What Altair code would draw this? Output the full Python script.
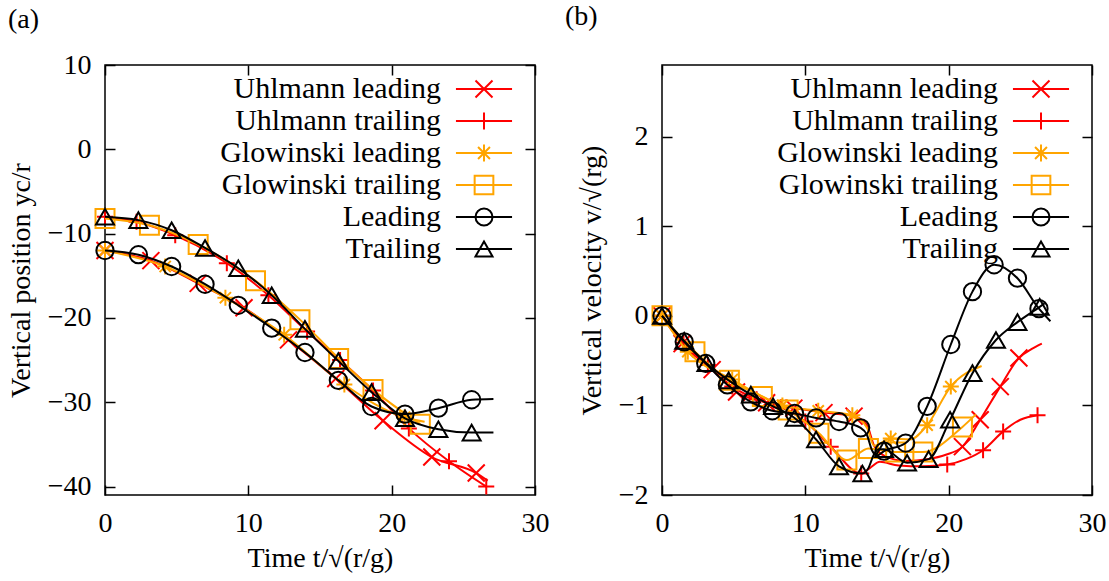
import altair as alt
import pandas as pd

FONT = "Liberation Serif"
FS = 28
LEG_FS = 30

SERIES = ["Uhlmann leading", "Uhlmann trailing", "Glowinski leading",
          "Glowinski trailing", "Leading", "Trailing"]
COLORS = ["#ff0000", "#ff0000", "#ffa500", "#ffa500", "#000000", "#000000"]

X_PATH = "M-1,-1L1,1M-1,1L1,-1"
PLUS_PATH = "M-1,0L1,0M0,-1L0,1"
STAR_PATH = "M-1,0L1,0M0,-1L0,1M-0.7,-0.7L0.7,0.7M-0.7,0.7L0.7,-0.7"
PLOT_SHAPES = [X_PATH, PLUS_PATH, STAR_PATH, "square", "circle", "triangle-up"]
PLOT_SIZES = [289, 256, 256, 361, 300, 324]

LINE = "M-3.3,0L3.3,0"
PAD = "M4.4,0"
LEGEND_SHAPES = [
    LINE + X_PATH + PAD,
    LINE + PLUS_PATH + PAD,
    LINE + STAR_PATH + PAD,
    LINE + "M-1.1,-1.1L1.1,-1.1L1.1,1.1L-1.1,1.1Z" + PAD,
    LINE + "M-1,0A1,1 0 1,0 1,0A1,1 0 1,0 -1,0Z" + PAD,
    LINE + "M0,-0.87L-1,0.87L1,0.87Z" + PAD,
]

# ---------------- panel (a): vertical position ----------------
A_UL_T = [0, 3.2, 6.5, 9.7, 12.8, 16.1, 19.4, 22.8, 25.9, 26.7]
A_UL_Y = [-12.0, -13.2, -15.9, -18.8, -22.6, -27.2, -32.2, -36.5, -38.4, -39.3]
A_UL_M = [1, 1, 1, 1, 1, 1, 1, 1, 1, 0]

A_UT_T = [0, 2.2, 4.9, 8.5, 11.4, 14.1, 16.4, 18.7, 21.2, 24.0, 26.6]
A_UT_Y = [-8.0, -8.6, -10.2, -13.5, -17.3, -21.6, -25.0, -28.6, -33.1, -37.0, -40.0]
A_UT_M = [1, 1, 1, 1, 1, 1, 1, 1, 1, 1, 1]

A_GL_T = [0, 4.2, 8.4, 12.5, 16.7, 20.9, 22.3]
A_GL_Y = [-12.0, -13.9, -17.6, -22.0, -27.9, -31.8, -32.3]
A_GL_M = [1, 1, 1, 1, 1, 1, 0]

A_GT_T = [0, 3.1, 6.5, 10.5, 13.6, 16.3, 18.7, 22.0]
A_GT_Y = [-8.2, -9.0, -11.3, -15.6, -20.2, -24.8, -28.5, -32.6]
A_GT_M = [1, 1, 1, 1, 1, 1, 1, 1]

A_L_T = [0, 2.33, 4.65, 6.98, 9.3, 11.63, 13.95, 16.28, 18.6, 20.93, 23.26, 25.58, 27.1]
A_L_Y = [-12.0, -12.5, -13.9, -16.0, -18.5, -21.2, -24.1, -27.4, -30.5, -31.4, -30.7, -29.7, -29.6]
A_L_M = [1, 1, 1, 1, 1, 1, 1, 1, 1, 1, 1, 1, 0]

A_T_T = [0, 2.33, 4.65, 6.98, 9.3, 11.63, 13.95, 16.28, 18.6, 20.93, 23.26, 25.58, 27.1]
A_T_Y = [-8.0, -8.4, -9.6, -11.7, -14.1, -17.3, -21.3, -25.1, -28.8, -31.9, -33.2, -33.6, -33.6]
A_T_M = [1, 1, 1, 1, 1, 1, 1, 1, 1, 1, 1, 1, 0]

# ---------------- panel (b): vertical velocity ----------------
B_UL_T = [0, 1.4, 3.5, 5.2, 7.3, 9.2, 11.3, 13.4, 14.3, 14.8, 15.5, 17.0, 18.5, 19.8, 20.96, 22.2, 23.6, 24.9, 25.8, 26.5]
B_UL_Y = [0, -0.31, -0.60, -0.85, -0.97, -1.03, -1.08, -1.12, -1.22, -1.45, -1.56, -1.62, -1.60, -1.55, -1.46, -1.16, -0.79, -0.47, -0.37, -0.31]
B_UL_M = [1, 1, 1, 1, 1, 1, 1, 1, 0, 0, 0, 0, 0, 0, 1, 1, 1, 1, 0, 0]

B_UT_T = [0, 1.5, 3.2, 4.9, 6.6, 8.3, 10.0, 11.77, 13.9, 14.5, 15.2, 16.5, 18.2, 19.9, 21.2, 22.4, 23.8, 25.0, 26.2]
B_UT_Y = [0, -0.30, -0.55, -0.79, -0.93, -1.02, -1.18, -1.46, -1.76, -1.70, -1.63, -1.67, -1.68, -1.66, -1.60, -1.50, -1.29, -1.16, -1.11]
B_UT_M = [1, 1, 1, 1, 1, 1, 1, 1, 1, 0, 0, 0, 0, 1, 0, 1, 1, 0, 1]

B_GL_T = [0, 1.8, 4.9, 8.4, 10.9, 13.28, 14.3, 14.8, 15.96, 17.3, 18.5, 20.15, 22.3]
B_GL_Y = [0, -0.40, -0.71, -1.00, -1.06, -1.11, -1.25, -1.45, -1.37, -1.38, -1.22, -0.79, -0.56]
B_GL_M = [1, 1, 1, 1, 1, 1, 0, 0, 1, 0, 1, 1, 0]

B_GT_T = [0, 2.3, 4.7, 7.0, 8.8, 10.95, 12.9, 14.4, 16.3, 18.2, 20.96, 21.9]
B_GT_Y = [0, -0.40, -0.72, -0.90, -1.05, -1.31, -1.61, -1.48, -1.52, -1.52, -1.24, -1.10]
B_GT_M = [1, 1, 1, 1, 1, 1, 1, 1, 1, 1, 1, 0]

B_L_T = [0, 1.55, 3.05, 4.56, 6.19, 7.7, 9.25, 10.75, 12.35, 13.86, 14.3, 14.65, 15.0, 15.49, 17.0, 18.5, 20.15, 21.66, 23.17, 24.8, 26.3, 27.1]
B_L_Y = [0, -0.29, -0.53, -0.77, -0.96, -1.06, -1.09, -1.14, -1.18, -1.25, -1.33, -1.50, -1.56, -1.51, -1.42, -1.01, -0.32, 0.27, 0.57, 0.42, 0.08, -0.06]
B_L_M = [1, 1, 1, 1, 1, 1, 1, 1, 1, 1, 0, 0, 0, 1, 1, 1, 1, 1, 1, 1, 1, 0]

B_T_T = [0, 1.55, 3.1, 4.65, 6.2, 7.75, 9.25, 10.75, 12.35, 13.98, 14.4, 14.75, 15.1, 15.49, 17.1, 18.6, 20.1, 21.66, 23.3, 24.8, 26.35, 26.7]
B_T_Y = [0, -0.28, -0.53, -0.72, -0.88, -1.01, -1.14, -1.38, -1.68, -1.76, -1.70, -1.56, -1.49, -1.49, -1.64, -1.60, -1.16, -0.64, -0.27, -0.07, 0.10, 0.14]
B_T_M = [1, 1, 1, 1, 1, 1, 1, 1, 1, 1, 0, 0, 0, 1, 1, 1, 1, 1, 1, 1, 1, 0]


def table(groups):
    rows = []
    for name, (ts, ys, ms) in zip(SERIES, groups):
        for t, y, m in zip(ts, ys, ms):
            rows.append({"series": name, "t": t, "v": y, "m": m})
    return pd.DataFrame(rows)


DF_A = table([(A_UL_T, A_UL_Y, A_UL_M), (A_UT_T, A_UT_Y, A_UT_M),
              (A_GL_T, A_GL_Y, A_GL_M), (A_GT_T, A_GT_Y, A_GT_M),
              (A_L_T, A_L_Y, A_L_M), (A_T_T, A_T_Y, A_T_M)])
DF_B = table([(B_UL_T, B_UL_Y, B_UL_M), (B_UT_T, B_UT_Y, B_UT_M),
              (B_GL_T, B_GL_Y, B_GL_M), (B_GT_T, B_GT_Y, B_GT_M),
              (B_L_T, B_L_Y, B_L_M), (B_T_T, B_T_Y, B_T_M)])

X_TICKS = [0, 10, 20, 30]


def panel(df, ydom, yticks, ytitle, tag, title_offset):
    xs = alt.Scale(domain=[0, 30], nice=False, zero=False)
    ys = alt.Scale(domain=ydom, nice=False, zero=False)
    x_main = alt.X("t:Q", scale=xs, axis=alt.Axis(
        orient="bottom", values=X_TICKS, title="Time t/√(r/g)",
        labelPadding=14, titlePadding=7))
    y_main = alt.Y("v:Q", scale=ys, axis=alt.Axis(
        orient="left", values=yticks, title=ytitle,
        labelPadding=14, titlePadding=12))
    x_none = alt.X("t:Q", scale=xs, axis=None)
    y_none = alt.Y("v:Q", scale=ys, axis=None)
    x_top = alt.X("t:Q", scale=xs, axis=alt.Axis(
        orient="top", values=X_TICKS, labels=False, title=None, maxExtent=0))
    y_right = alt.Y("v:Q", scale=ys, axis=alt.Axis(
        orient="right", values=yticks, labels=False, title=None, maxExtent=0))

    leg = alt.Legend(title=None, orient="top-right", offset=9,
                     labelAlign="right", labelOffset={"expr": "-58"}, labelLimit=600,
                     labelFont=FONT, labelFontSize=LEG_FS, symbolSize=289,
                     symbolStrokeWidth=2, rowPadding=2, symbolOpacity=1)
    legend_layer = alt.Chart(df).transform_filter("false").mark_point(
        filled=False, strokeWidth=2, opacity=1).encode(
        x=x_top, y=y_right,
        color=alt.Color("series:N", scale=alt.Scale(domain=SERIES, range=COLORS), legend=leg),
        shape=alt.Shape("series:N", scale=alt.Scale(domain=SERIES, range=LEGEND_SHAPES), legend=leg),
    )
    layers = [legend_layer]
    for i, name in enumerate(SERIES):
        base = alt.Chart(df).transform_filter(alt.datum.series == name)
        line = base.mark_line(color=COLORS[i], strokeWidth=2, interpolate="monotone").encode(
            x=x_main if i == 0 else x_none, y=y_main if i == 0 else y_none)
        pts = base.transform_filter(alt.datum.m == 1).mark_point(
            shape=PLOT_SHAPES[i], size=PLOT_SIZES[i], filled=False, color=COLORS[i],
            strokeWidth=2, opacity=1).encode(x=x_none, y=y_none)
        layers += [line, pts]
    return alt.layer(*layers).resolve_axis(x="independent", y="independent").properties(
        width=430, height=430,
        title=alt.TitleParams(tag, anchor="start", frame="group", dx=-97, offset=title_offset,
                              font=FONT, fontSize=FS, fontWeight="normal", color="black"))


pa = panel(DF_A, [-41, 10], [10, 0, -10, -20, -30, -40], "Vertical position yc/r", "(a)", 17)
pb = panel(DF_B, [-2, 2.8], [2, 1, 0, -1, -2], "Vertical velocity v/√(rg)", "(b)", 33)

chart = alt.hconcat(pa, pb, spacing=14).resolve_scale(
    color="independent", shape="independent").resolve_legend(
    color="independent", shape="independent").properties(
    padding={"left": 6, "top": 2, "right": 0, "bottom": 0}
).configure_axis(
    labelFont=FONT, titleFont=FONT, labelFontSize=FS, titleFontSize=FS,
    titleFontWeight="normal", labelColor="black", titleColor="black",
    tickColor="black", tickWidth=1.5, tickSize=10, offset=-10, domain=False,
    grid=False, minExtent=0, labelFlush=False
).configure_view(stroke="black", strokeWidth=1.5)

chart.save("out.html", embed_options={"renderer": "svg", "actions": False})
